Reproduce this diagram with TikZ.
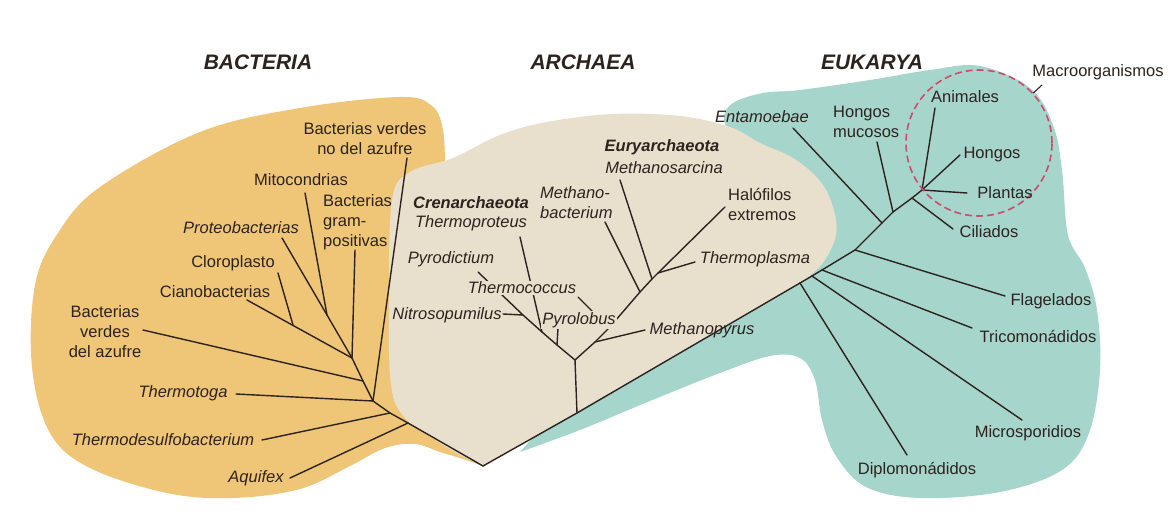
\documentclass[tikz,border=0pt]{standalone}
\usepackage{fontspec}
\setmainfont{Liberation Sans}
\usetikzlibrary{positioning}
\definecolor{bactfill}{RGB}{239,197,120}
\definecolor{archfill}{RGB}{233,223,205}
\definecolor{eukfill}{RGB}{166,213,204}
\definecolor{ink}{RGB}{45,35,30}
\definecolor{macrored}{RGB}{205,75,110}
\newcommand{\lblsize}{\fontsize{16.5}{20}\selectfont}
\newcommand{\domsize}{\fontsize{21}{24}\selectfont}

\begin{document}
\begin{tikzpicture}[
  x=1pt, y=-1pt,
  lbl/.style={font=\lblsize, text=ink, inner sep=1pt},
  taxon/.style={lbl, font=\lblsize\itshape},
  clade/.style={lbl, font=\lblsize\bfseries\itshape},
  masked/.style={fill=archfill},
  domaintitle/.style={font=\domsize\bfseries\itshape, text=ink},
  branch/.style={draw=ink, line width=1.4pt, line cap=round},
  macroring/.style={circle, draw=macrored, dash pattern=on 7pt off 4pt,
               line width=1.6pt, minimum size=146pt, inner sep=0pt},
]
  \useasboundingbox (0,0) rectangle (1171,511);
  \fill[white] (0,0) rectangle (1171,511);

  % domain areas
  \fill[bactfill] plot[smooth, tension=0.6] coordinates {(483,466) (463,459)
    (440,452) (415,444) (385,448) (350,466) (300,489) (233,498) (167,493)
    (90,468) (50,433) (32,367) (35,285) (58,233) (100,187) (200,132)
    (300,108) (400,97) (432,106) (443,130) (445,170)} -- (440,420) -- cycle;
  \fill[eukfill] plot[smooth, tension=0.6] coordinates {(520,452) (580,430)
    (650,401) (720,373) (770,356) (800,358) (815,380) (822,420) (836,456)
    (866,487) (920,498) (1000,492) (1062,470) (1089,433) (1100,370)
    (1097,310) (1085,268) (1068,235) (1062,170) (1053,125) (1030,88)
    (980,66) (930,70) (870,80) (800,90) (763,93) (733,103) (724,118)
    (732,140)} -- (700,250) -- cycle;
  \fill[archfill] plot[smooth, tension=0.6] coordinates {(800,283) (822,264)
    (836,235) (833,207) (820,181) (793,158) (760,143) (730,127) (680,116)
    (613,114) (547,122) (500,135) (453,158) (410,172) (392,200) (389,300)
    (391,385) (405,418) (437,441) (462,456) (483,466)} -- cycle;

  % junctions
  \coordinate (root) at (483,466);
  \coordinate (b1) at (408,423);
  \coordinate (b2) at (390,413);
  \coordinate (b3) at (373,401);
  \coordinate (b4) at (363,381);
  \coordinate (b5) at (352,358);
  \coordinate (b6) at (327,315);
  \coordinate (b7) at (293,325);
  \coordinate (a0) at (577,413);
  \coordinate (a1) at (575,360);
  \coordinate (l1) at (557,345);
  \coordinate (l2) at (542,332);
  \coordinate (l3) at (523,315);
  \coordinate (r1) at (595,342);
  \coordinate (r2) at (609,328);
  \coordinate (r3) at (640,292);
  \coordinate (r4) at (652,279);
  \coordinate (r5) at (658,273);
  \coordinate (e1) at (800,283);
  \coordinate (e2) at (812,276);
  \coordinate (e3) at (822,270);
  \coordinate (e4) at (855,250);
  \coordinate (e5) at (882,223);
  \coordinate (e6) at (893,212);
  \coordinate (e7) at (912,198);
  \coordinate (e8) at (922,190);

  % leaf ends
  \coordinate (aquifexT) at (290,478);
  \coordinate (thdesT) at (262,440);
  \coordinate (thtogaT) at (236,394);
  \coordinate (gsbT) at (143,330);
  \coordinate (gnsbT) at (407,158);
  \coordinate (cianoT) at (247,300);
  \coordinate (cloroT) at (278,273);
  \coordinate (gramT) at (355,250);
  \coordinate (proteoT) at (282,238);
  \coordinate (mitoT) at (305,193);
  \coordinate (pyrodT) at (478,272);
  \coordinate (pyrolT) at (558,328);
  \coordinate (thprotT) at (520,237);
  \coordinate (nitroT) at (503,314);
  \coordinate (mpyrusT) at (645,330);
  \coordinate (thcocT) at (578,297);
  \coordinate (mbactT) at (605,222);
  \coordinate (msarcT) at (620,180);
  \coordinate (halofT) at (725,207);
  \coordinate (thplasT) at (695,262);
  \coordinate (diploT) at (907,455);
  \coordinate (microT) at (1022,420);
  \coordinate (tricoT) at (972,328);
  \coordinate (flageT) at (1005,296);
  \coordinate (entamT) at (793,128);
  \coordinate (mucosT) at (877,142);
  \coordinate (ciliaT) at (953,229);
  \coordinate (animT) at (935,108);
  \coordinate (plantT) at (967,193);
  \coordinate (hongosT) at (960,155);
  \coordinate (macrofoot) at (1042,85);

  % bacteria
  \draw[branch] (root) -- (b1) -- (b2) -- (b3) -- (b4) -- (b5) -- (b6);
  \draw[branch] (b1) -- (aquifexT);
  \draw[branch] (b2) -- (thdesT);
  \draw[branch] (b3) -- (thtogaT);
  \draw[branch] (b3) -- (gnsbT);
  \draw[branch] (b4) -- (gsbT);
  \draw[branch] (b5) -- (cianoT);
  \draw[branch] (b7) -- (cloroT);
  \draw[branch] (b5) -- (gramT);
  \draw[branch] (b6) -- (proteoT);
  \draw[branch] (b6) -- (mitoT);

  % archaea
  \draw[branch] (root) -- (a0) -- (e1);
  \draw[branch] (a0) -- (a1);
  \draw[branch] (a1) -- (l1) -- (l2) -- (l3) -- (pyrodT);
  \draw[branch] (l1) -- (pyrolT);
  \draw[branch] (l2) -- (thprotT);
  \draw[branch] (l3) -- (nitroT);
  \draw[branch] (a1) -- (r1) -- (r2) -- (r3) -- (r4) -- (r5) -- (halofT);
  \draw[branch] (r1) -- (mpyrusT);
  \draw[branch] (r2) -- (thcocT);
  \draw[branch] (r3) -- (mbactT);
  \draw[branch] (r4) -- (msarcT);
  \draw[branch] (r5) -- (thplasT);

  % eukarya
  \draw[branch] (e1) -- (e2) -- (e3) -- (e4) -- (e5) -- (e6) -- (e7) -- (e8)
    -- (hongosT);
  \draw[branch] (e1) -- (diploT);
  \draw[branch] (e2) -- (microT);
  \draw[branch] (e3) -- (tricoT);
  \draw[branch] (e4) -- (flageT);
  \draw[branch] (e5) -- (entamT);
  \draw[branch] (e6) -- (mucosT);
  \draw[branch] (e7) -- (ciliaT);
  \draw[branch] (e8) -- (animT);
  \draw[branch] (e8) -- (plantT);

  \node[macroring] (ring) at (979,143) {};
  \draw[branch, line width=1.1pt] (macrofoot) -- (ring);

  % headings
  \node[domaintitle] (bacteria) at (258,62) {BACTERIA};
  \node[domaintitle] (archaea) at (583,62) {ARCHAEA};
  \node[domaintitle] (eukarya) at (872,62) {EUKARYA};

  % bacteria labels
  \node[lbl, align=center] (gnsb) at (365,139) {Bacterias verdes\\no del azufre};
  \node[lbl] (mito) at (301,180) {Mitocondrias};
  \node[lbl, align=left, anchor=west] (gram) at (322,222) {Bacterias\\gram-\\positivas};
  \node[taxon] (proteo) at (241,228) {Proteobacterias};
  \node[lbl] (cloro) at (233,263) {Cloroplasto};
  \node[lbl] (ciano) at (215,292) {Cianobacterias};
  \node[lbl, align=center] (gsb) at (105,332) {Bacterias\\verdes\\del azufre};
  \node[taxon] (thtoga) at (183,393) {Thermotoga};
  \node[taxon] (thdes) at (163,440) {Thermodesulfobacterium};
  \node[taxon] (aquifex) at (256,478) {Aquifex};

  % archaea labels
  \node[clade] (cren) at (471,203) {Crenarchaeota};
  \node[taxon] (thprot) at (471,223) {Thermoproteus};
  \node[taxon] (pyrod) at (451,259) {Pyrodictium};
  \node[taxon, masked] (thcoc) at (522,288) {Thermococcus};
  \node[taxon] (nitro) at (447,315) {Nitrosopumilus};
  \node[taxon, masked] (pyrol) at (579,320) {Pyrolobus};
  \node[taxon] (mpyrus) at (702,330) {Methanopyrus};
  \node[taxon, align=left, anchor=west] (mbact) at (539,203) {Methano-\\bacterium};
  \node[clade] (eury) at (662,147) {Euryarchaeota};
  \node[taxon] (msarc) at (664,168) {Methanosarcina};
  \node[lbl, align=left, anchor=west] (halof) at (727,205) {Halófilos\\extremos};
  \node[taxon] (thplas) at (755,259) {Thermoplasma};

  % eukarya labels
  \node[taxon] (entam) at (762,117) {Entamoebae};
  \node[lbl, align=left, anchor=west] (mucos) at (832,122) {Hongos\\mucosos};
  \node[lbl] (anim) at (965,97) {Animales};
  \node[lbl] (hongos) at (992,155) {Hongos};
  \node[lbl] (plant) at (1005,193) {Plantas};
  \node[lbl] (cilia) at (989,232) {Ciliados};
  \node[lbl] (macro) at (1098,72) {Macroorganismos};
  \node[lbl] (flage) at (1051,301) {Flagelados};
  \node[lbl] (trico) at (1038,337) {Tricomonádidos};
  \node[lbl] (micro) at (1028,433) {Microsporidios};
  \node[lbl] (diplo) at (917,470) {Diplomonádidos};
\end{tikzpicture}
\end{document}
